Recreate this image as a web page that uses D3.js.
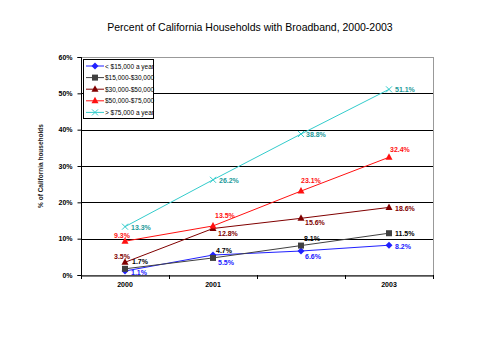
<!DOCTYPE html>
<html><head><meta charset="utf-8">
<script src="https://cdn.jsdelivr.net/npm/d3@7"></script>
<style>body{margin:0;background:#fff}svg{display:block;font-family:"Liberation Sans",Arial,sans-serif}</style>
</head><body><svg id="c" width="480" height="360"></svg>
<script>
const title = "Percent of California Households with Broadband, 2000-2003";
const yTitle = "% of California households";
const categories = ["2000", "2001", "2002", "2003"];
const xTickLabels = ["2000", "2001", "", "2003"];
const yTicks = [0, 10, 20, 30, 40, 50, 60];
const seriesNames = ["< $15,000 a year", "$15,000-$30,000", "$30,000-$50,000", "$50,000-$75,000", "> $75,000 a year"];
const under15 = [1.1, 5.5, 6.6, 8.2];
const from15to30 = [1.7, 4.7, 8.1, 11.5];
const from30to50 = [3.5, 12.8, 15.6, 18.6];
const from50to75 = [9.3, 13.5, 23.1, 32.4];
const over75 = [13.3, 26.2, 38.8, 51.1];

const colors = ["#2020ff", "#404040", "#800000", "#ff1010", "#33cccc"];
const markers = ["diamond", "square", "triangle", "triangle", "cross"];
// label placement [dx, dy, anchor] per point
const labelPos = [
  [[6,4,"start"],[5,10,"start"],[4,8,"start"],[6,4,"start"]],
  [[7,-5,"start"],[3,-5,"start"],[3,-5,"start"],[6,3,"start"]],
  [[5,-3,"end"],[5,8,"start"],[4,7,"start"],[6,4,"start"]],
  [[5,-3,"end"],[2,-8,"start"],[0,-8,"start"],[1,-5,"start"]],
  [[6,3,"start"],[6,3,"start"],[5,3,"start"],[6,3,"start"]]
];
const seriesValues = [under15, from15to30, from30to50, from50to75, over75];

const svg = d3.select("#c");
const L = 81, R = 433, T = 57, B = 275;
const x = d3.scaleBand().domain(categories).range([L, R]);
const y = d3.scaleLinear().domain([0, 60]).range([B, T]);

svg.append("text").attr("x", 250).attr("y", 31).attr("text-anchor", "middle")
  .attr("font-size", 10.5).text(title);

svg.append("g").selectAll("line").data(yTicks.filter(d => d > 0)).join("line")
  .attr("x1", L).attr("x2", R).attr("y1", d => Math.round(y(d)) + 0.5).attr("y2", d => Math.round(y(d)) + 0.5)
  .attr("stroke", "#000").attr("stroke-width", 1);
svg.append("rect").attr("x", L + 0.5).attr("y", T + 0.5).attr("width", R - L).attr("height", B - T)
  .attr("fill", "none").attr("stroke", "#999");

const ya = svg.append("g").attr("transform", `translate(${L + 0.5},0)`)
  .call(d3.axisLeft(y).tickValues(yTicks).tickFormat(d => d + "%").tickSize(4));
ya.select(".domain").attr("stroke", "#000").attr("d", `M-4,${T + 0.5}H0V${B + 0.5}H-4`);
ya.selectAll("text").attr("font-size", 7).attr("font-weight", "bold").attr("font-family", "Liberation Sans, Arial").attr("dx", -2);

const xa = svg.append("g").attr("transform", `translate(0,${B + 0.5})`)
  .call(d3.axisBottom(x).tickFormat((d, i) => xTickLabels[i]).tickSize(0));
xa.select(".domain").attr("stroke", "#000");
xa.selectAll("text").attr("font-size", 7).attr("font-weight", "bold").attr("font-family", "Liberation Sans, Arial").attr("dy", 8);
svg.append("g").selectAll("line").data(d3.range(categories.length + 1)).join("line")
  .attr("x1", i => L + i * x.step() + 0.5).attr("x2", i => L + i * x.step() + 0.5)
  .attr("y1", B).attr("y2", B + 4).attr("stroke", "#000");

svg.append("text").attr("transform", `translate(43,${(T + B) / 2}) rotate(-90)`)
  .attr("text-anchor", "middle").attr("font-size", 6.5).attr("font-weight", "bold").attr("fill", "#222").text(yTitle);

function drawMarker(g, type, color, cx, cy) {
  if (type === "diamond") g.append("path").attr("d", `M${cx},${cy - 3.5}L${cx + 3.5},${cy}L${cx},${cy + 3.5}L${cx - 3.5},${cy}Z`).attr("fill", color);
  else if (type === "square") g.append("rect").attr("x", cx - 3).attr("y", cy - 3).attr("width", 6).attr("height", 6).attr("fill", color);
  else if (type === "triangle") g.append("path").attr("d", `M${cx},${cy - 4}L${cx + 3.5},${cy + 2.5}L${cx - 3.5},${cy + 2.5}Z`).attr("fill", color);
  else g.append("path").attr("d", `M${cx - 3},${cy - 3}L${cx + 3},${cy + 3}M${cx + 3},${cy - 3}L${cx - 3},${cy + 3}`).attr("stroke", color).attr("stroke-width", 1);
}

const cx = c => x(c) + x.bandwidth() / 2;
const line = d3.line().x((d, i) => cx(categories[i])).y(d => y(d));
seriesValues.forEach((vals, s) => {
  const g = svg.append("g");
  g.append("path").attr("d", line(vals)).attr("fill", "none").attr("stroke", colors[s]).attr("stroke-width", 1);
  vals.forEach((v, i) => drawMarker(g, markers[s], colors[s], cx(categories[i]), y(v)));
  vals.forEach((v, i) => {
    const p = labelPos[s][i];
    g.append("text").attr("x", cx(categories[i]) + p[0]).attr("y", y(v) + p[1]).attr("text-anchor", p[2])
      .attr("font-size", 7).attr("font-weight", "bold").attr("fill", s === 1 ? "#000" : (s === 4 ? "#229999" : colors[s])).text(v.toFixed(1) + "%");
  });
});

const lg = svg.append("g");
lg.append("rect").attr("x", 83.5).attr("y", 59.5).attr("width", 70).attr("height", 59).attr("fill", "#fff").attr("stroke", "#000");
seriesNames.forEach((n, i) => {
  const ly = 66 + i * 11.6;
  lg.append("line").attr("x1", 86).attr("x2", 104).attr("y1", ly).attr("y2", ly).attr("stroke", colors[i]);
  drawMarker(lg, markers[i], colors[i], 95, ly);
  lg.append("text").attr("x", 105).attr("y", ly + 2.5).attr("font-size", 6.5).text(n);
});
</script></body></html>
